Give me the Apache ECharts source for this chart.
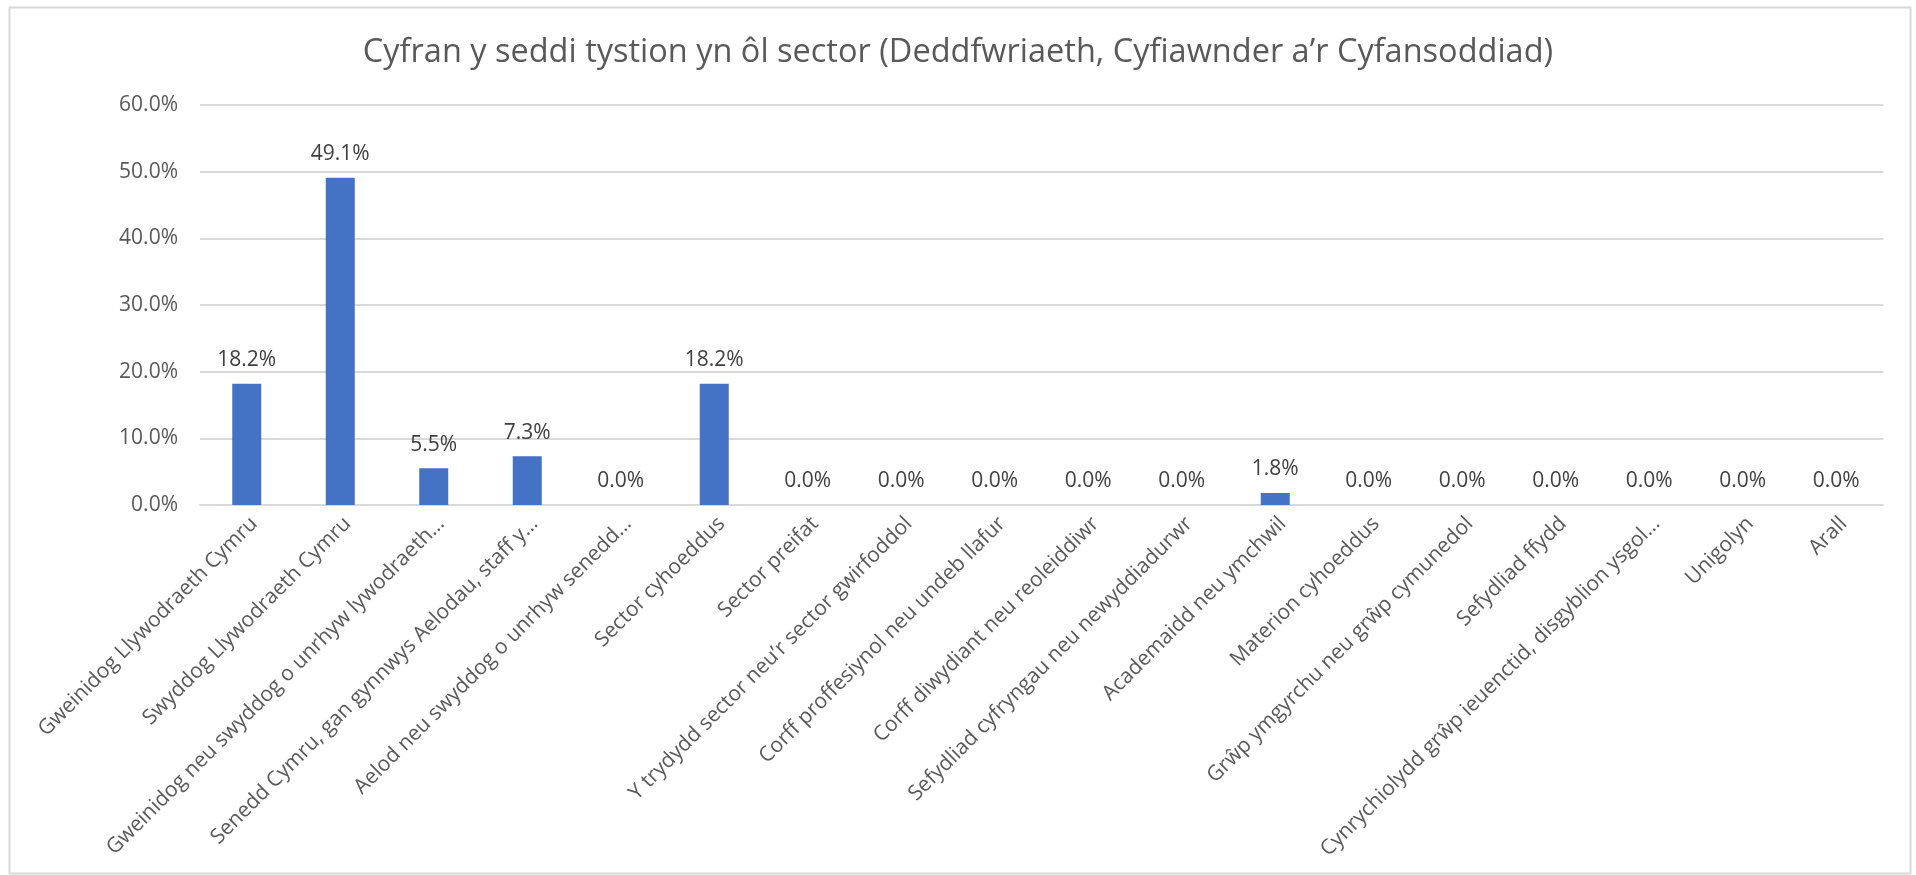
<!DOCTYPE html>
<html>
<head>
<meta charset="utf-8">
<script src="https://cdn.jsdelivr.net/npm/echarts@6/dist/echarts.min.js"></script>
<style>
html,body{margin:0;padding:0;background:#fff;}
#chart{width:1916px;height:875px;}
</style>
</head>
<body>
<div id="chart"></div>
<script>
const titleText = 'Cyfran y seddi tystion yn ôl sector (Deddfwriaeth, Cyfiawnder a’r Cyfansoddiad)';
const categories = [
  'Gweinidog Llywodraeth Cymru',
  'Swyddog Llywodraeth Cymru',
  'Gweinidog neu swyddog o unrhyw lywodraeth…',
  'Senedd Cymru, gan gynnwys Aelodau, staff y…',
  'Aelod neu swyddog o unrhyw senedd…',
  'Sector cyhoeddus',
  'Sector preifat',
  'Y trydydd sector neu’r sector gwirfoddol',
  'Corff proffesiynol neu undeb llafur',
  'Corff diwydiant neu reoleiddiwr',
  'Sefydliad cyfryngau neu newyddiadurwr',
  'Academaidd neu ymchwil',
  'Materion cyhoeddus',
  'Grŵp ymgyrchu neu grŵp cymunedol',
  'Sefydliad ffydd',
  'Cynrychiolydd grŵp ieuenctid, disgyblion ysgol…',
  'Unigolyn',
  'Arall'
];
const values = [18.2, 49.1, 5.5, 7.3, 0.0, 18.2, 0.0, 0.0, 0.0, 0.0, 0.0, 1.8, 0.0, 0.0, 0.0, 0.0, 0.0, 0.0];
const yMin = 0, yMax = 60, yInterval = 10;

const FONT = '"Open Sans", "Noto Sans", sans-serif';
const chart = echarts.init(document.getElementById('chart'));
chart.setOption({
  backgroundColor: '#ffffff',
  animation: false,
  graphic: [{
    type: 'rect',
    left: 7, top: 5,
    shape: { width: 1901, height: 866 },
    style: { fill: 'none', stroke: '#d9d9d9', lineWidth: 2 },
    silent: true
  }],
  title: {
    text: titleText,
    left: 'center',
    top: 31,
    textStyle: { fontFamily: FONT, fontSize: 32.5, fontWeight: 'normal', color: '#595959' }
  },
  grid: { left: 200, right: 33, top: 105, bottom: 370, containLabel: false },
  xAxis: {
    type: 'category',
    data: categories,
    axisTick: { show: false },
    axisLine: { lineStyle: { color: '#d9d9d9', width: 2 } },
    axisLabel: {
      interval: 0,
      rotate: 45,
      margin: 8,
      verticalAlign: 'top',
      fontFamily: FONT,
      fontSize: 21,
      color: '#595959'
    }
  },
  yAxis: {
    type: 'value',
    min: yMin, max: yMax, interval: yInterval,
    axisLine: { show: false },
    axisTick: { show: false },
    splitLine: { lineStyle: { color: '#d9d9d9', width: 2 } },
    axisLabel: {
      margin: 22,
      fontFamily: FONT,
      fontSize: 21,
      color: '#595959',
      formatter: v => v.toFixed(1) + '%'
    }
  },
  series: [{
    type: 'bar',
    data: values,
    barWidth: 29,
    itemStyle: { color: '#4472c4' },
    label: {
      show: true,
      position: 'top',
      distance: 13,
      fontFamily: FONT,
      fontSize: 21,
      color: '#404040',
      formatter: p => p.value.toFixed(1) + '%'
    }
  }]
});
</script>
</body>
</html>
